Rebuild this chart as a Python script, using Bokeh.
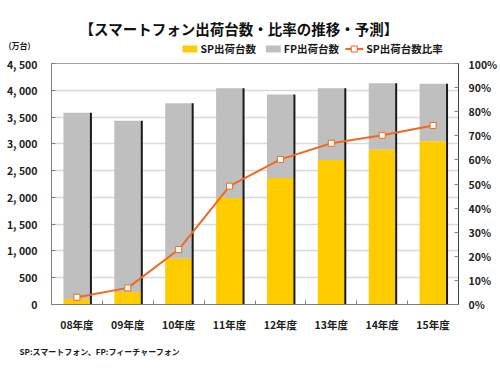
from bokeh.plotting import figure
from bokeh.layouts import column
from bokeh.models import Range1d, LinearAxis, FixedTicker, ColumnDataSource
from bokeh.core.properties import value
from bokeh.embed import file_html
from bokeh.resources import INLINE

years = ["08年度", "09年度", "10年度", "11年度", "12年度", "13年度", "14年度", "15年度"]
sp_units = [105, 235, 855, 1990, 2360, 2700, 2890, 3050]
total_units = [3580, 3430, 3760, 4040, 3920, 4040, 4130, 4120]
sp_ratio = [3.0, 6.9, 22.8, 49.1, 60.2, 66.9, 70.2, 74.3]

left_ticks = [0, 500, 1000, 1500, 2000, 2500, 3000, 3500, 4000, 4500]
left_labels = ["0", "500", "1, 000", "1, 500", "2, 000", "2, 500", "3, 000", "3, 500", "4, 000", "4, 500"]
right_ticks = [0, 10, 20, 30, 40, 50, 60, 70, 80, 90, 100]
right_labels = ["0%", "10%", "20%", "30%", "40%", "50%", "60%", "70%", "80%", "90%", "100%"]

title_text = "【スマートフォン出荷台数・比率の推移・予測】"
unit_text = "(万台)"
note_text = "SP:スマートフォン、FP:フィーチャーフォン"
series_names = ["SP出荷台数", "FP出荷台数", "SP出荷台数比率"]

FONT = "Noto Sans CJK JP"
YELLOW = "#FFCC00"
GRAY = "#BFBFBF"
ORANGE = "#EE6A1E"
L, R = 51, 39   # plot borders shared by all three panels


def quiet_axis(ax):
    ax.axis_line_color = None
    ax.major_tick_line_color = None
    ax.minor_tick_line_color = None
    ax.major_tick_in = 0
    ax.major_tick_out = 0
    ax.minor_tick_in = 0
    ax.minor_tick_out = 0
    ax.major_label_text_font = FONT
    ax.major_label_text_font_style = "bold"
    ax.major_label_text_color = "#1A1A1A"


# ---------- header: title, unit, legend ----------
head = figure(width=500, height=56, output_backend="svg", toolbar_location=None,
              x_range=Range1d(L, 500 - R), y_range=Range1d(56, 0), x_axis_location=None,
              min_border_left=L, min_border_right=R, min_border_top=0, min_border_bottom=0)
head.grid.grid_line_color = None
head.outline_line_color = None
head.border_fill_color = "white"
hy = head.yaxis[0]
quiet_axis(hy)
hy.ticker = FixedTicker(ticks=[45])
hy.major_label_overrides = {45: unit_text}
hy.major_label_text_font_size = "8px"
hy.major_label_standoff = 21

head.text(x=[240], y=[28], text=[title_text], text_font=value(FONT), text_font_style="bold",
          text_font_size="14.5px", text_align="center", text_baseline="middle", text_color="#111111")
# legend swatches + labels
sw_x = [183, 267]
head.rect(x=[v + 7.5 for v in sw_x], y=[48.5, 48.5], width=15, height=7,
          fill_color=[YELLOW, GRAY], line_color=None)
head.line(x=[347, 365], y=[48.5, 48.5], line_color=ORANGE, line_width=2)
head.scatter(x=[356], y=[48.5], marker="square", size=6, fill_color="white", line_color=ORANGE, line_width=1)
head.text(x=[201, 285, 368], y=[48, 48, 48], text=series_names, text_font=value(FONT),
          text_font_style="bold", text_font_size="10.5px", text_align="left",
          text_baseline="middle", text_color="#1A1A1A")

# ---------- main chart ----------
xs = [i + 0.5 for i in range(len(years))]
src = ColumnDataSource(dict(x=xs, sp=sp_units, total=total_units, ratio=sp_ratio,
                            sx=[v + 0.275 for v in xs]))

p = figure(width=500, height=284, output_backend="svg", toolbar_location=None,
           x_range=Range1d(0, 8), y_range=Range1d(0, 4500),
           min_border_left=L, min_border_right=R, min_border_top=7, min_border_bottom=36)
p.extra_y_ranges = {"pct": Range1d(0, 100)}
p.outline_line_color = "#A0A0A0"
p.background_fill_color = "white"
p.border_fill_color = "white"

p.vbar(x="x", bottom="sp", top="total", width=0.53, source=src, fill_color=GRAY, line_color=None)
p.vbar(x="x", bottom=0, top="sp", width=0.53, source=src, fill_color=YELLOW, line_color=None)
p.segment(x0="sx", y0=0, x1="sx", y1="total", source=src, line_color="#1A1A1A", line_width=2)
p.line(x="x", y="ratio", source=src, y_range_name="pct", line_color=ORANGE, line_width=2)
p.scatter(x="x", y="ratio", source=src, y_range_name="pct", marker="square", size=6,
          fill_color="white", line_color=ORANGE, line_width=1)

ya = p.yaxis[0]
ya.ticker = FixedTicker(ticks=left_ticks)
ya.major_label_overrides = {t: l for t, l in zip(left_ticks, left_labels)}
ya.major_tick_in = 4
ya.major_tick_out = 0
ya.minor_tick_line_color = None
ya.axis_line_color = "#808080"
ya.major_tick_line_color = "#808080"
ya.major_label_text_font = FONT
ya.major_label_text_font_style = "bold"
ya.major_label_text_font_size = "10.5px"
ya.major_label_text_color = "#222222"
ya.major_label_standoff = 14

ra = LinearAxis(y_range_name="pct", ticker=FixedTicker(ticks=right_ticks))
ra.major_label_overrides = {t: l for t, l in zip(right_ticks, right_labels)}
ra.major_tick_in = 4
ra.major_tick_out = 0
ra.axis_line_color = "#404040"
ra.major_tick_line_color = "#808080"
ra.major_label_text_font = FONT
ra.major_label_text_font_style = "bold"
ra.major_label_text_font_size = "10.5px"
ra.major_label_text_color = "#222222"
ra.major_label_standoff = 10
p.add_layout(ra, "right")

xa = p.xaxis[0]
xa.ticker = FixedTicker(ticks=xs, minor_ticks=list(range(9)))
xa.major_label_overrides = {x: y for x, y in zip(xs, years)}
xa.major_tick_line_color = None
xa.minor_tick_in = 4
xa.minor_tick_out = 0
xa.minor_tick_line_color = "#808080"
xa.axis_line_color = "#808080"
xa.major_label_text_font = FONT
xa.major_label_text_font_style = "bold"
xa.major_label_text_font_size = "10.5px"
xa.major_label_text_color = "#222222"
xa.major_label_standoff = 6

p.xgrid.grid_line_color = None
p.ygrid.ticker = FixedTicker(ticks=left_ticks)
p.ygrid.grid_line_color = "#D9D9D9"
p.ygrid.grid_line_width = 1.5

# ---------- footer: note rendered as an axis label so it may extend left of the frame ----------
foot = figure(width=500, height=35, output_backend="svg", toolbar_location=None,
              x_range=Range1d(L, 500 - R), y_range=Range1d(0, 1), y_axis_location=None,
              min_border_left=L, min_border_right=R, min_border_top=0, min_border_bottom=32)
foot.grid.grid_line_color = None
foot.outline_line_color = None
foot.border_fill_color = "white"
fx = foot.xaxis[0]
quiet_axis(fx)
fx.ticker = FixedTicker(ticks=[100])
fx.major_label_overrides = {100: note_text}
fx.major_label_text_font_size = "8px"
fx.major_label_standoff = 2

layout = column(head, p, foot, spacing=0)
open("out.html", "w").write(file_html(layout, INLINE))
